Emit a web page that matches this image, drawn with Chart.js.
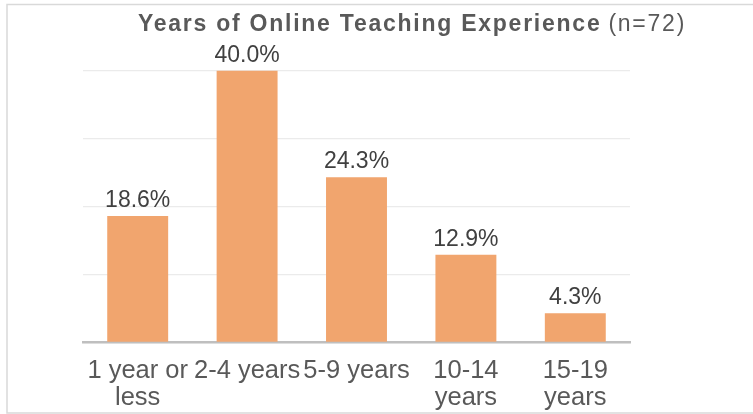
<!DOCTYPE html>
<html>
<head>
<meta charset="utf-8">
<script src="https://cdn.jsdelivr.net/npm/chart.js@4/dist/chart.umd.min.js"></script>
<style>
  html, body { margin: 0; padding: 0; background: #ffffff; }
  #wrap { width: 753px; height: 414px; position: relative; }
</style>
</head>
<body>
<div id="wrap"><canvas id="c" width="753" height="414"></canvas></div>
<script>
const categories = [["1 year or", "less"], "2-4 years", "5-9 years", ["10-14", "years"], ["15-19", "years"]];
const percentages = [18.6, 40.0, 24.3, 12.9, 4.3];
const titleMain = "Years of Online Teaching Experience";
const titleSub = "(n=72)";
const yTicks = { min: 0, max: 40, step: 10 };

const FONT = "'Liberation Sans', Arial, sans-serif";

const decorPlugin = {
  id: 'decor',
  beforeDraw(chart) {
    const ctx = chart.ctx;
    ctx.save();
    ctx.fillStyle = '#ffffff';
    ctx.fillRect(0, 0, chart.width, chart.height);
    ctx.strokeStyle = '#D9D9D9';
    ctx.lineWidth = 1.5;
    ctx.strokeRect(7, 4.5, 800, 408.5);
    ctx.restore();
  },
  afterDraw(chart) {
    const ctx = chart.ctx;
    ctx.save();
    ctx.fillStyle = '#595959';
    ctx.textBaseline = 'alphabetic';
    ctx.textAlign = 'left';
    ctx.letterSpacing = '1.75px';
    ctx.font = 'bold 23px ' + FONT;
    const w1 = ctx.measureText(titleMain).width;
    ctx.font = '23px ' + FONT;
    const w2 = ctx.measureText(titleSub).width;
    const gap = 7;
    const total = w1 + gap + w2;
    const cx = 412;
    const x = cx - total / 2;
    ctx.font = 'bold 23px ' + FONT;
    ctx.fillText(titleMain, x, 31);
    ctx.font = '23px ' + FONT;
    ctx.fillText(titleSub, x + w1 + gap, 31);
    ctx.restore();
  },
  afterDatasetsDraw(chart) {
    const ctx = chart.ctx;
    const meta = chart.getDatasetMeta(0);
    ctx.save();
    ctx.fillStyle = '#404040';
    ctx.font = '23px ' + FONT;
    ctx.textAlign = 'center';
    ctx.textBaseline = 'alphabetic';
    meta.data.forEach((bar, i) => {
      ctx.fillText(percentages[i].toFixed(1) + '%', bar.x, bar.y - 9);
    });
    ctx.restore();
  }
};

new Chart(document.getElementById('c'), {
  type: 'bar',
  data: {
    labels: categories,
    datasets: [{
      data: percentages,
      backgroundColor: '#F1A56E',
      borderWidth: 0,
      barPercentage: 0.557,
      categoryPercentage: 1.0
    }]
  },
  options: {
    responsive: false,
    animation: false,
    devicePixelRatio: 1,
    layout: { padding: { left: 83, right: 123, top: 70.5, bottom: -12 } },
    plugins: {
      legend: { display: false },
      title: { display: false },
      tooltip: { enabled: false }
    },
    scales: {
      x: {
        grid: { display: false, drawTicks: false },
        border: { display: true, color: '#BFBFBF', width: 2.5 },
        ticks: {
          color: '#595959',
          font: { family: FONT, size: 25.5, lineHeight: 1.05 },
          padding: 15,
          maxRotation: 0,
          autoSkip: false
        }
      },
      y: {
        min: yTicks.min,
        max: yTicks.max,
        ticks: { display: false, stepSize: yTicks.step },
        grid: { color: '#EBEBEB', lineWidth: 1.3, drawTicks: false },
        border: { display: false }
      }
    }
  },
  plugins: [decorPlugin]
});
</script>
</body>
</html>
